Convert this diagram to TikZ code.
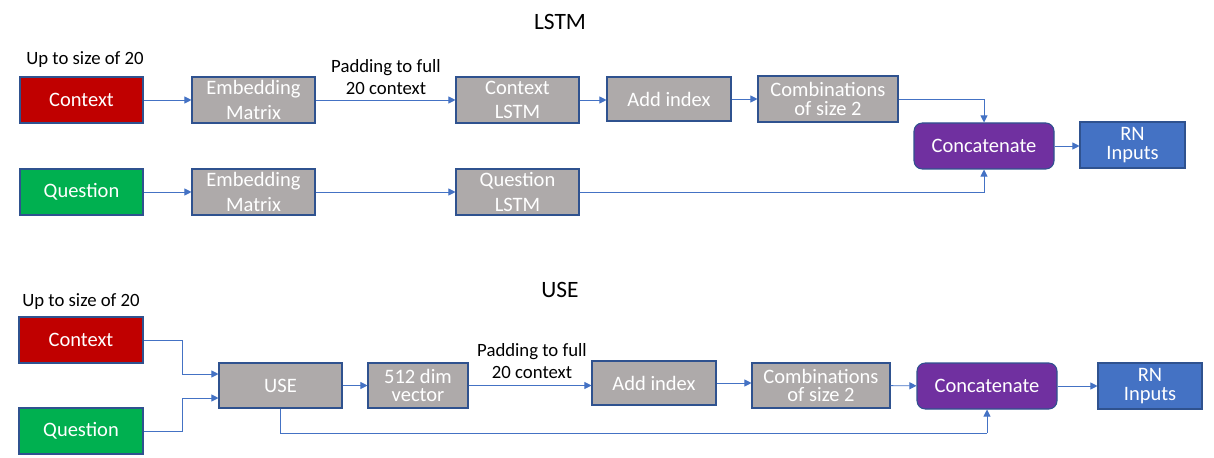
\documentclass[tikz,border=0pt]{standalone}
\usepackage{fontspec}
\setmainfont{Carlito}
\usepackage{tikz}
\usetikzlibrary{calc,positioning,arrows.meta}

\definecolor{boxgray}{HTML}{AEAAAA}
\definecolor{boxline}{HTML}{2F528F}
\definecolor{ctxred}{HTML}{C00000}
\definecolor{qgreen}{HTML}{00B050}
\definecolor{catpurple}{HTML}{7030A0}
\definecolor{rnblue}{HTML}{4472C4}
\definecolor{wire}{HTML}{4472C4}

\newcommand{\blkfont}{\fontsize{17.5}{21}\selectfont}
\newcommand{\lblfont}{\fontsize{16}{19.5}\selectfont}

\tikzset{
	blk/.style={draw=boxline,line width=0.9pt,fill=boxgray,text=white,font=\blkfont,align=center,inner sep=0pt,minimum width=3.69cm,minimum height=1.38cm},
	tight/.style={font=\fontsize{17.5}{16}\selectfont},
	ctxbox/.style={blk,fill=ctxred},
	qbox/.style={blk,fill=qgreen},
	catbox/.style={blk,fill=catpurple,rounded corners=7pt,minimum width=4.2cm},
	rnbox/.style={blk,tight,fill=rnblue,minimum width=3.15cm},
	lbl/.style={font=\lblfont,align=center,inner sep=0pt},
	ttl/.style={font=\fontsize{20}{24}\selectfont,inner sep=0pt},
	conn/.style={draw=wire,line width=0.8pt,-{Triangle[length=6pt,width=6pt]}},
	wireline/.style={draw=wire,line width=0.8pt}
}

\begin{document}
\begin{tikzpicture}[x=0.03cm,y=-0.03cm]
	\useasboundingbox (0,0) rectangle (1214,458);

	% LSTM branch
	\node(t1) [ttl] at (560,22) {LSTM};
	\node(up1) [lbl] at (85,60) {Up to size of 20};
	\node(ctx1) [ctxbox] at (81.5,100) {Context};
	\node(emb1) [blk] at (253.5,100) {Embedding\\Matrix};
	\node(clstm) [blk] at (517.5,100) {Context\\LSTM};
	\node(pad1) [lbl] at (386,77) {Padding to full\\20 context};
	\node(addi1) [blk,minimum width=3.72cm,minimum height=1.32cm] at (669,99) {Add index};
	\node(comb1) [blk,tight,minimum width=4.2cm] at (828,99) {Combinations\\of size 2};
	\node(cat1) [catbox] at (984,146) {Concatenate};
	\node(rn1) [rnbox] at (1132.5,145) {RN\\Inputs};
	\node(q1) [qbox] at (81.5,192) {Question};
	\node(emb2) [blk] at (253.5,192) {Embedding\\Matrix};
	\node(qlstm) [blk] at (517.5,192) {Question\\LSTM};

	\draw[conn] (ctx1) -- (emb1);
	\draw[conn] (emb1) -- (clstm);
	\draw[conn] (clstm.east) -- (clstm.east -| addi1.west);
	\draw[conn] (addi1) -- (comb1);
	\draw[conn] (comb1.east) -| (cat1.north);
	\draw[conn] (cat1.east) -- (cat1.east -| rn1.west);
	\draw[conn] (q1) -- (emb2);
	\draw[conn] (emb2) -- (qlstm);
	\draw[conn] (qlstm.east) -| (cat1.south);

	% USE branch
	\node(t2) [ttl] at (560,290) {USE};
	\node(up2) [lbl] at (81,302) {Up to size of 20};
	\node(ctx2) [ctxbox,minimum width=3.72cm] at (81,340) {Context};
	\node(q2) [qbox,minimum width=3.72cm] at (81,431) {Question};
	\node(use) [blk,minimum height=1.35cm] at (280.5,385.5) {USE};
	\node(vec) [blk,tight,minimum width=3cm,minimum height=1.35cm] at (418,385.5) {512 dim\\vector};
	\node(pad2) [lbl] at (532,361) {Padding to full\\20 context};
	\node(addi2) [blk,minimum width=3.72cm,minimum height=1.32cm] at (654,383) {Add index};
	\node(comb2) [blk,tight,minimum width=4.14cm,minimum height=1.35cm] at (821,385.5) {Combinations\\of size 2};
	\node(cat2) [catbox] at (987,386) {Concatenate};
	\node(rn2) [rnbox,minimum width=3.12cm] at (1150,386) {RN\\Inputs};

	\coordinate(j1) at (182,374);
	\coordinate(j2) at (182,398);
	\coordinate(bus) at (987,433);
	\draw[conn] (ctx2.east) -| (j1) -- (j1 -| use.west);
	\draw[conn] (q2.east) -| (j2) -- (j2 -| use.west);
	\draw[conn] (use) -- (vec);
	\draw[conn] (vec.east) -- (vec.east -| addi2.west);
	\draw[conn] (addi2.east) -- (addi2.east -| comb2.west);
	\draw[conn] (comb2) -- (cat2);
	\draw[conn] (cat2) -- (rn2);
	\draw[wireline] (use.south) |- (bus);
	\draw[conn] (bus) -- (cat2.south);
\end{tikzpicture}
\end{document}
